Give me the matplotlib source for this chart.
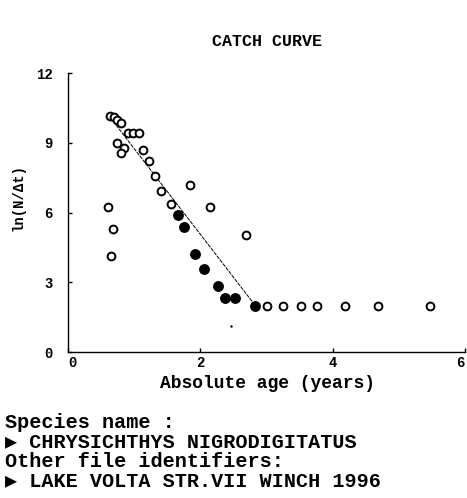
import matplotlib
matplotlib.use("Agg")
import matplotlib.pyplot as plt

# open circles (not used in the regression)
open_x = [0.63, 0.69, 0.74, 0.80, 0.90, 0.98, 1.07, 0.74, 0.84, 0.80,
          1.13, 1.22, 1.31, 1.41, 1.55,
          0.60, 0.68, 0.65, 1.85, 2.15, 2.69,
          3.01, 3.25, 3.52, 3.77, 4.18, 4.69, 5.47]
open_y = [10.17, 10.09, 10.00, 9.83, 9.44, 9.40, 9.40, 9.01, 8.76, 8.58,
          8.67, 8.20, 7.55, 6.91, 6.35,
          6.22, 5.28, 4.12, 7.17, 6.22, 5.02,
          1.97, 1.97, 1.97, 1.97, 1.97, 1.97, 1.97]

# filled circles
fill_x = [1.67, 1.76, 1.92, 2.05, 2.27, 2.38, 2.53, 2.83]
fill_y = [5.88, 5.36, 4.21, 3.56, 2.83, 2.32, 2.32, 1.97]

# fitted line end points
line_x = [0.59, 2.83]
line_y = [10.26, 2.00]

# stray dot
dot_x = [2.47]
dot_y = [1.12]

xticks = [0, 2, 4, 6]
xlabels = ["0", "2", "4", "6"]
yticks = [0, 3, 6, 9, 12]
ylabels = ["0", "3", "6", "9", "12"]

mono = ["Liberation Mono", "DejaVu Sans Mono", "DejaVu Sans"]

fig = plt.figure(figsize=(4.67, 4.98), dpi=100)
ax = fig.add_axes([68/467, 1-352/498, 397/467, 279/498])

ax.plot(line_x, line_y, color="black", lw=0.7, ls=(0, (4, 1)), zorder=1)
ax.plot(open_x, open_y, "o", ms=5.6, mfc="white", mec="black", mew=1.4, ls="none", zorder=2)
ax.plot(fill_x, fill_y, "o", ms=6.8, mfc="black", mec="black", ls="none", zorder=3)
ax.plot(dot_x, dot_y, ".", ms=1.5, color="black", zorder=3)

ax.set_xlim(0, 6)
ax.set_ylim(0, 12)
ax.spines["top"].set_visible(False)
ax.spines["right"].set_visible(False)
for s in ["left", "bottom"]:
    ax.spines[s].set_linewidth(1.0)
ax.set_xticks(xticks)
ax.set_xticklabels(xlabels, family=mono, fontweight="bold", fontsize=10)
ax.get_xticklabels()[0].set_ha("left")
ax.get_xticklabels()[-1].set_ha("right")
ax.set_yticks(yticks)
ax.set_yticklabels(ylabels, family=mono, fontweight="bold", fontsize=10)
ax.tick_params(direction="in", length=3, width=1)
ax.tick_params(axis="y", pad=11)
ax.tick_params(axis="x", pad=3)

fig.text(267/467, 1-42/498, "CATCH CURVE", family=mono, fontweight="bold",
         fontsize=12, ha="center", va="center")
fig.text(18/467, 1-197/498, "ln(N/Δt)", family=mono, fontweight="bold",
         fontsize=10, rotation=90, ha="center", va="center")
fig.text(267/467, 1-383/498, "Absolute age (years)", family=mono, fontweight="bold",
         fontsize=13, ha="center", va="center")

info = ["Species name :",
        "\u25b6 CHRYSICHTHYS NIGRODIGITATUS",
        "Other file identifiers:",
        "\u25b6 LAKE VOLTA STR.VII WINCH 1996"]
rows = [422, 442, 461, 481]
for t, r in zip(info, rows):
    fig.text(5/467, 1-r/498, t, family=mono, fontweight="bold",
             fontsize=14.5, ha="left", va="center")

fig.savefig("out.png", dpi=100)
